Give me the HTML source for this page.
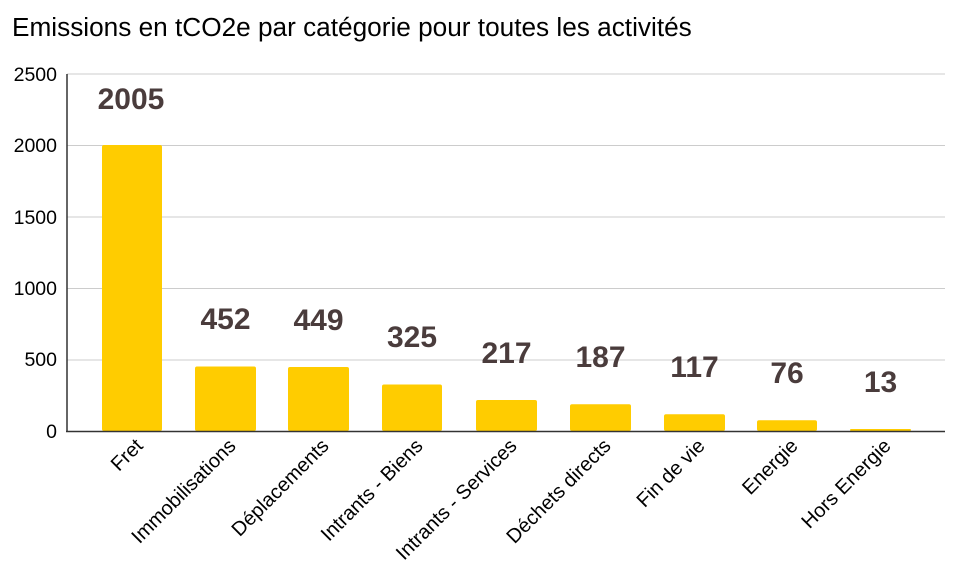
<!DOCTYPE html>
<html><head><meta charset="utf-8"><style>body{margin:0;background:#fff}svg{display:block}</style></head><body>
<svg width="955" height="575" xmlns="http://www.w3.org/2000/svg" font-family="Liberation Sans, Arial, sans-serif">
<rect width="955" height="575" fill="#fff"/>
<text x="12" y="36" font-size="26.2" fill="#000">Emissions en tCO2e par catégorie pour toutes les activités</text>
<g stroke="#cccccc" stroke-width="1">
<line x1="67" x2="945" y1="74" y2="74"/><line x1="67" x2="945" y1="145.5" y2="145.5"/><line x1="67" x2="945" y1="217" y2="217"/><line x1="67" x2="945" y1="288.5" y2="288.5"/><line x1="67" x2="945" y1="360" y2="360"/>
</g>
<g font-size="19.5" fill="#000" text-anchor="end">
<text x="57" y="81">2500</text><text x="57" y="152">2000</text><text x="57" y="224">1500</text><text x="57" y="295">1000</text><text x="57" y="366">500</text><text x="57" y="438">0</text>
</g>
<g fill="#ffcc00">
<rect x="102" y="145" width="60" height="286" rx="2"/>
<rect x="195" y="366.5" width="61" height="64.5" rx="2"/>
<rect x="288" y="367" width="61" height="64" rx="2"/>
<rect x="382" y="384.5" width="60" height="46.5" rx="2"/>
<rect x="476" y="400" width="61" height="31" rx="2"/>
<rect x="570" y="404.3" width="61" height="26.7" rx="2"/>
<rect x="664" y="414.3" width="61" height="16.7" rx="2"/>
<rect x="757" y="420.2" width="60" height="10.8" rx="2"/>
<rect x="850" y="429" width="61" height="2" rx="1"/>
</g>
<line x1="67" x2="67" y1="74" y2="432" stroke="#333" stroke-width="1.5"/>
<line x1="66" x2="945" y1="431.5" y2="431.5" stroke="#333" stroke-width="1.5"/>
<g font-size="30" font-weight="bold" fill="#4a3c3c" text-anchor="middle">
<text x="131" y="109">2005</text><text x="225.5" y="329">452</text><text x="318.5" y="330">449</text><text x="412" y="347">325</text><text x="506.5" y="363">217</text><text x="600.5" y="367">187</text><text x="694.5" y="377">117</text><text x="787" y="383">76</text><text x="880.5" y="392">13</text>
</g>
<g font-size="20" fill="#000" text-anchor="end">
<text transform="translate(144,447) rotate(-45)">Fret</text>
<text transform="translate(237,447) rotate(-45)">Immobilisations</text>
<text transform="translate(330,447) rotate(-45)">Déplacements</text>
<text transform="translate(424,447) rotate(-45)">Intrants - Biens</text>
<text transform="translate(518,447) rotate(-45)">Intrants - Services</text>
<text transform="translate(612,447) rotate(-45)">Déchets directs</text>
<text transform="translate(706,447) rotate(-45)">Fin de vie</text>
<text transform="translate(799,447) rotate(-45)">Energie</text>
<text transform="translate(892,447) rotate(-45)">Hors Energie</text>
</g>
</svg>
</body></html>
